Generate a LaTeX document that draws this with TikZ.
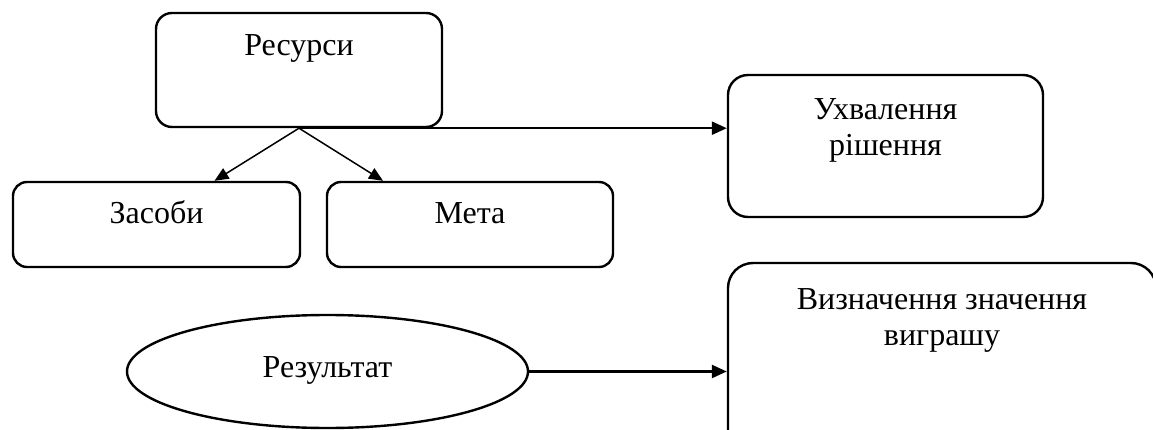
\documentclass[tikz,border=0pt]{standalone}
\usepackage{fontspec}
\setmainfont{Liberation Serif}
\usetikzlibrary{shapes.geometric,arrows.meta}

\begin{document}
\begin{tikzpicture}[x=1pt,y=-1pt,
	box/.style={draw, line width=2.4pt, rounded corners=#1},
	txt/.style={font=\fontsize{32pt}{36pt}\selectfont, align=center, anchor=base}]
\useasboundingbox (0,0) rectangle (1153,430);
\clip (0,0) rectangle (1153,430);
\node [box=16pt, minimum width=286pt, minimum height=114pt, label={[txt, yshift=-44pt]north:Ресурси}] (res) at (299,70) {};
\node [box=14pt, minimum width=287pt, minimum height=85pt, label={[txt, yshift=-43pt]north:Засоби}] (zas) at (156.5,224.5) {};
\node [box=14pt, minimum width=286pt, minimum height=85pt, label={[txt, yshift=-43pt]north:Мета}] (met) at (470,224.5) {};
\node [box=20pt, minimum width=315pt, minimum height=142pt, label={[txt, yshift=-82pt]north:{Ухвалення\\рішення}}] (ukh) at (885.5,146) {};
\node [box=25pt, minimum width=428pt, minimum height=197pt, label={[txt, yshift=-84pt]north:{Визначення значення\\виграшу}}] (viz) at (942,361.5) {};
\node [ellipse, draw, line width=2.4pt, minimum width=401pt, minimum height=113pt, label={[txt, yshift=1.5pt]center:Результат}] (rez) at (327.5,371.5) {};
\draw [line width=1.5pt, -{Triangle[length=14pt,width=12pt]}] (res.south) -- ([xshift=58pt]zas.north);
\draw [line width=1.5pt, -{Triangle[length=14pt,width=12pt]}] (res.south) -- ([xshift=-87pt]met.north);
\draw [line width=2.4pt, -{Triangle[length=15pt,width=13pt]}] (res.south) -- (res.south -| ukh.west);
\draw [line width=2.4pt, -{Triangle[length=15pt,width=13pt]}] (rez.east) -- (rez.east -| viz.west);
\end{tikzpicture}
\end{document}
